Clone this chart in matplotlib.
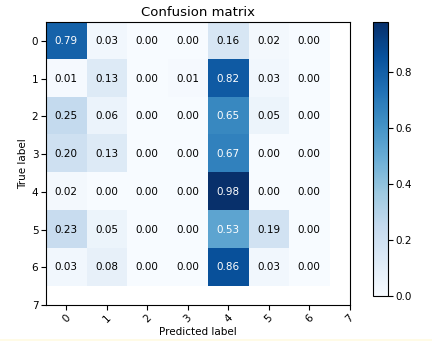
import numpy as np
import matplotlib
matplotlib.use("Agg")
from matplotlib import pyplot as plt

classes = ['0', '1', '2', '3', '4', '5', '6', '7']
cm = np.array([
    [0.79, 0.03, 0.00, 0.00, 0.16, 0.02, 0.00],
    [0.01, 0.13, 0.00, 0.01, 0.82, 0.03, 0.00],
    [0.25, 0.06, 0.00, 0.00, 0.65, 0.05, 0.00],
    [0.20, 0.13, 0.00, 0.00, 0.67, 0.00, 0.00],
    [0.02, 0.00, 0.00, 0.00, 0.98, 0.00, 0.00],
    [0.23, 0.05, 0.00, 0.00, 0.53, 0.19, 0.00],
    [0.03, 0.08, 0.00, 0.00, 0.86, 0.03, 0.00],
])

W, H = 432, 341
fig = plt.figure(figsize=(W / 100, H / 100), dpi=100)

# pale strip along the bottom edge
fig.patches.append(plt.Rectangle((0, 0), 1, 2.2 / H, transform=fig.transFigure,
                                 facecolor='#fffbe6', edgecolor='none', zorder=-1))

ax = fig.add_axes([46 / W, (H - 305) / H, (349.6 - 46) / W, (305 - 22) / H])
im = ax.imshow(cm, interpolation='nearest', cmap=plt.cm.Blues,
               vmin=0, vmax=cm.max(), aspect='auto')
ax.set_title('Confusion matrix', fontsize=9.5, pad=4)

ticks = np.arange(len(classes))
ax.set_xticks(ticks)
ax.set_xticklabels(classes, rotation=45, fontsize=7.5)
ax.set_yticks(ticks)
ax.set_yticklabels(classes, fontsize=7.5)
ax.set_xlim(-0.5, 7)
ax.set_ylim(7, -0.5)
ax.tick_params(length=3.5, width=0.8, pad=2)

thresh = cm.max() / 2.
for i in range(cm.shape[0]):
    for j in range(cm.shape[1]):
        ax.text(j, i, format(cm[i, j], '.2f'),
                horizontalalignment='center', verticalalignment='center',
                fontsize=7.5,
                color='white' if cm[i, j] > thresh else 'black')

ax.set_ylabel('True label', fontsize=7.5, labelpad=3)
ax.set_xlabel('Predicted label', fontsize=7.5, labelpad=2)

cax = fig.add_axes([373 / W, (H - 296) / H, 15 / W, (296 - 22) / H])
cb = fig.colorbar(im, cax=cax, ticks=[0.0, 0.2, 0.4, 0.6, 0.8])
cb.ax.tick_params(labelsize=7.5, length=3.5, width=0.8, pad=2)
cb.outline.set_linewidth(0.8)

fig.savefig('out.png', dpi=100)
